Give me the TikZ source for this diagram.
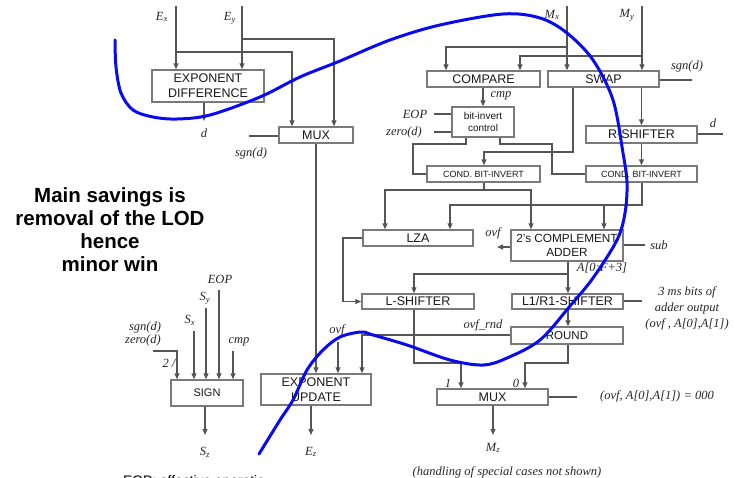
\documentclass[tikz,border=0pt]{standalone}
\usepackage{fontspec}
\setmainfont{Liberation Serif}
\setsansfont{Liberation Sans}
\usetikzlibrary{arrows.meta}
\definecolor{ln}{HTML}{555555}
\definecolor{bx}{HTML}{7A7A7A}
\definecolor{crv}{HTML}{0A0AF0}
\begin{document}
\begin{tikzpicture}[x=1pt,y=-1pt,
  blk/.style={draw=bx, line width=1.4pt, fill=white, inner sep=0pt, align=center,
    font=\sffamily\fontsize{12.5}{15}\selectfont, text=black!90},
  conn/.style={draw=ln, line width=1.1pt},
  arr/.style={conn, -{Triangle[length=6pt,width=5pt]}},
  lbl/.style={font=\itshape\fontsize{12.5}{15.7}\selectfont, inner sep=0pt, text=black!85, align=center},
]
\useasboundingbox (0,0) rectangle (735,478);

% ---------- boxes ----------
\node[blk, minimum width=112, minimum height=32] (expdiff) at (208,86) {EXPONENT\\DIFFERENCE};
\node[blk, minimum width=74, minimum height=16] (mux1) at (316,135) {MUX};
\node[blk, minimum width=113, minimum height=16] (compare) at (483.5,79) {COMPARE};
\node[blk, minimum width=111, minimum height=16] (swap) at (603.5,79) {SWAP};
\node[blk, minimum width=62, minimum height=30, font=\sffamily\fontsize{10}{12.5}\selectfont] (bic) at (483,122) {bit-invert\\control};
\node[blk, minimum width=111, minimum height=17] (rsh) at (641.5,134.5) {R-SHIFTER};
\node[blk, minimum width=113, minimum height=16, font=\sffamily\fontsize{9}{11}\selectfont] (cond1) at (483.5,174) {COND. BIT-INVERT};
\node[blk, minimum width=111, minimum height=16, font=\sffamily\fontsize{9}{11}\selectfont] (cond2) at (641.5,174) {COND. BIT-INVERT};
\node[blk, minimum width=110, minimum height=16] (lza) at (418,238) {LZA};
\node[blk, minimum width=112, minimum height=31, font=\sffamily\fontsize{11.8}{14}\selectfont] (adder) at (567,245.5) {2's COMPLEMENT\\ADDER};
\node[blk, minimum width=112, minimum height=15] (lsh) at (418,301.5) {L-SHIFTER};
\node[blk, minimum width=111, minimum height=15] (l1r1) at (567.5,301.5) {L1/R1-SHIFTER};
\node[blk, minimum width=112, minimum height=17, font=\sffamily\fontsize{11.5}{14}\selectfont] (round) at (567,335.5) {ROUND};
\node[blk, minimum width=111, minimum height=16] (mux2) at (492.5,397) {MUX};
\node[blk, minimum width=110, minimum height=31] (expupd) at (316,389.5) {EXPONENT\\UPDATE};
\node[blk, minimum width=72, minimum height=26, font=\sffamily\fontsize{11}{13}\selectfont] (sign) at (207,393) {SIGN};

% ---------- exponent path ----------
\coordinate (exT) at (176,6);
\coordinate (eyT) at (242,6);
\draw[arr] (exT) -- (exT |- expdiff.north);
\draw[arr] (eyT) -- (eyT |- expdiff.north);
\coordinate (exJ) at (176,52); \coordinate (exK) at (292,52);
\draw[arr] (exJ) -- (exK) -- (exK |- mux1.north);
\coordinate (eyJ) at (242,39); \coordinate (eyK) at (334,39);
\draw[arr] (eyJ) -- (eyK) -- (eyK |- mux1.north);
\node[lbl] (lex) at (162,17) {E\textsubscript{x}};
\node[lbl] (ley) at (230,18) {E\textsubscript{y}};
\coordinate (dEnd) at (204,121);
\draw[arr] (dEnd |- expdiff.south) -- (dEnd);
\node[lbl] (ld1) at (204,133) {d};
\coordinate (m1in) at (249,136);
\draw[conn] (m1in) -- (m1in -| mux1.west);
\node[lbl] (lsg1) at (251,153) {sgn(d)};
\draw[arr] (mux1.south) -- (mux1.south |- expupd.north);
\coordinate (ezEnd) at (311,435);
\draw[arr] (ezEnd |- expupd.south) -- (ezEnd);
\node[lbl] (lez) at (311,452) {E\textsubscript{z}};
\coordinate (ovfT) at (338,342);
\draw[arr] (ovfT) -- (ovfT |- expupd.north);
\node[lbl] (lovf1) at (337,330) {ovf};
\coordinate (orK) at (362,335);
\draw[arr] (round.west |- orK) -- (orK) -- (orK |- expupd.north);
\node[lbl] (lorn) at (483,325) {ovf\_rnd};

% ---------- sign ----------
\coordinate (zS) at (153,351); \coordinate (zK) at (177,351);
\draw[arr] (zS) -- (zK) -- (zK |- sign.north);
\coordinate (sxT) at (194,331); \draw[arr] (sxT) -- (sxT |- sign.north);
\coordinate (syT) at (206,308); \draw[arr] (syT) -- (syT |- sign.north);
\coordinate (eoT) at (219,290); \draw[arr] (eoT) -- (eoT |- sign.north);
\coordinate (cmT) at (233,351); \draw[arr] (cmT) -- (cmT |- sign.north);
\coordinate (szEnd) at (205,435);
\draw[arr] (szEnd |- sign.south) -- (szEnd);
\node[lbl] (lsg2) at (145,327) {sgn(d)};
\node[lbl] (lzr2) at (143,340) {zero(d)};
\node[lbl] (lz2) at (169,363) {2 /};
\node[lbl] (lsx) at (190,320) {S\textsubscript{x}};
\node[lbl] (lsy) at (205,298) {S\textsubscript{y}};
\node[lbl] (leop2) at (220,279) {EOP};
\node[lbl] (lcmp2) at (239,342) {cmp};
\node[lbl] (lsz) at (205,452) {S\textsubscript{z}};

% ---------- mantissa path ----------
\coordinate (mxT) at (567,6); \coordinate (myT) at (642,6);
\draw[arr] (mxT) -- (mxT |- swap.north);
\draw[arr] (myT) -- (myT |- swap.north);
\node[lbl] (lmx) at (552,15) {M\textsubscript{x}};
\node[lbl] (lmy) at (627,15) {M\textsubscript{y}};
\coordinate (mxJ) at (567,47); \coordinate (mxK) at (446,47);
\draw[arr] (mxJ) -- (mxK) -- (mxK |- compare.north);
\coordinate (myJ) at (642,56); \coordinate (myK) at (520,56);
\draw[arr] (myJ) -- (myK) -- (myK |- compare.north);
\coordinate (sgnE) at (692,80);
\draw[conn] (swap.east |- sgnE) -- (sgnE);
\node[lbl] (lsg3) at (687,66) {sgn(d)};
\draw[arr] (bic.north |- compare.south) -- (bic.north);
\node[lbl] (lcmp1) at (501,96) {cmp};
\coordinate (eopS) at (434,114);
\draw[conn] (eopS) -- (eopS -| bic.west);
\node[lbl] (leop1) at (415,114) {EOP};
\coordinate (zdS) at (434,132);
\draw[conn] (zdS) -- (zdS -| bic.west);
\node[lbl] (lzd1) at (404,132) {zero(d)};
\coordinate (swA) at (573,152); \coordinate (swB) at (484,152);
\draw[arr] (swA |- swap.south) -- (swA) -- (swB) -- (swB |- cond1.north);
\draw[arr] (rsh.north |- swap.south) -- (rsh.north);
\coordinate (rdE) at (723,134);
\draw[conn] (rsh.east |- rdE) -- (rdE);
\node[lbl] (ld2) at (713,123) {d};
\coordinate (b1) at (466,144); \coordinate (b2) at (413,144);
\draw[conn] (b1 |- bic.south) -- (b1) -- (b2) -- (b2 |- cond1.west) -- (cond1.west);
\coordinate (b3) at (500,144); \coordinate (b4) at (552,144);
\draw[conn] (b3 |- bic.south) -- (b3) -- (b4) -- (b4 |- cond2.west) -- (cond2.west);
\draw[arr] (rsh.south) -- (cond2.north);
\coordinate (c1) at (484,190); \coordinate (c1L) at (385,190); \coordinate (c1R) at (531,190);
\draw[conn] (c1 |- cond1.south) -- (c1);
\draw[arr] (c1) -- (c1L) -- (c1L |- lza.north);
\draw[arr] (c1) -- (c1R) -- (c1R |- adder.north);
\coordinate (c2) at (642,205); \coordinate (c2L) at (450,205); \coordinate (c2R) at (604,205);
\draw[arr] (c2 |- cond2.south) -- (c2) -- (c2L) -- (c2L |- lza.north);
\draw[arr] (c2R) -- (c2R |- adder.north);
\coordinate (aov) at (497,247);
\draw[arr] (adder.west |- aov) -- (aov);
\node[lbl] (lovf2) at (493,233) {ovf};
\coordinate (subE) at (645,245);
\draw[conn] (adder.east |- subE) -- (subE);
\node[lbl] (lsub) at (659,245) {sub};
\coordinate (lz1) at (343,238);
\draw[arr] (lza.west) -- (lz1) -- (lz1 |- lsh.west) -- (lsh.west);
\coordinate (a1) at (568,274); \coordinate (a2) at (414,274);
\draw[conn] (a1 |- adder.south) -- (a1);
\draw[arr] (a1) -- (a2) -- (a2 |- lsh.north);
\draw[arr] (a1) -- (a1 |- l1r1.north);
\node[lbl] (laf) at (602,268) {A[0:F+3]};
\coordinate (l1E) at (642,301);
\draw[conn] (l1r1.east |- l1E) -- (l1E);
\node[lbl] (l3ms) at (687,308.5) {3 ms bits of\\adder output\\(ovf , A[0],A[1])};
\draw[arr] (a1 |- l1r1.south) -- (a1 |- round.north);
\coordinate (ls1) at (414,363); \coordinate (ls2) at (461,363);
\draw[arr] (ls1 |- lsh.south) -- (ls1) -- (ls2) -- (ls2 |- mux2.north);
\coordinate (r1) at (568,363); \coordinate (r2) at (525,363);
\draw[arr] (r1 |- round.south) -- (r1) -- (r2) -- (r2 |- mux2.north);
\node[lbl] (lone) at (448,383) {1};
\node[lbl] (lzero) at (516,383) {0};
\coordinate (m2E) at (577,397);
\draw[conn] (mux2.east |- m2E) -- (m2E);
\node[lbl] (lcase) at (657,396) {(ovf, A[0],A[1]) = 000};
\coordinate (mzE) at (493,435);
\draw[arr] (mzE |- mux2.south) -- (mzE);
\node[lbl] (lmz) at (493,448) {M\textsubscript{z}};
\node[lbl] (lhand) at (507,472) {(handling of special cases not shown)};

% ---------- notes ----------
\node[font=\sffamily\bfseries\fontsize{20.5}{23}\selectfont, align=center, inner sep=0pt] (note) at (110,230)
  {Main savings is\\removal of the LOD\\hence\\minor win};
\node[font=\sffamily\fontsize{13.8}{16}\selectfont, anchor=base west, inner sep=0pt] (eopnote) at (123,485) {EOP: effective operatio};

% ---------- blue curve ----------
\draw[crv, line width=3pt, line cap=round] plot[smooth, tension=0.55] coordinates {
 (115,40) (116,67) (121,93) (133,110) (153,117) (177,119) (210,115) (260,97) (300,77)
 (340,61) (390,40) (440,25) (503,14) (540,18) (567,33) (593,60) (613,100) (623,153)
 (627,183) (625,213) (617,240) (593,278) (570,306) (540,340) (507,358) (483,365)
 (450,360) (407,345) (373,335) (361,332) (340,337) (323,350) (307,370) (293,400)
 (280,420) (259,454)};
\end{tikzpicture}
\end{document}
